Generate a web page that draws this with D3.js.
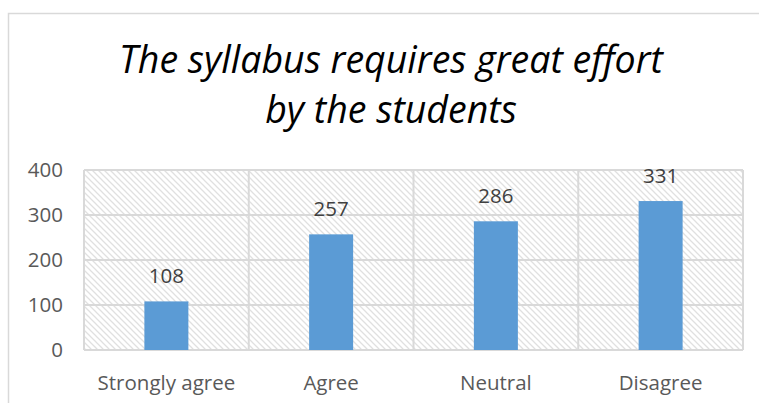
<!DOCTYPE html>
<html><head><meta charset="utf-8">
<script src="https://cdn.jsdelivr.net/npm/d3@7"></script>
<style>body{margin:0;background:#fff}svg{display:block}</style>
</head><body>
<script>
const categories = ["Strongly agree", "Agree", "Neutral", "Disagree"];
const values = [108, 257, 286, 331];
const yTicks = [0, 100, 200, 300, 400];
const titleLines = ["The syllabus requires great effort", "by the students"];

const W = 759, H = 403;
const m = {left: 84, right: 16, top: 170, bottom: 53};
const svg = d3.select("body").append("svg").attr("width", W).attr("height", H);

const defs = svg.append("defs");
const pat = defs.append("pattern").attr("id", "hatch").attr("patternUnits", "userSpaceOnUse")
  .attr("width", 6).attr("height", 6);
pat.append("path").attr("d", "M0,0 L6,6 M-1,5 L1,7 M5,-1 L7,1")
  .attr("stroke", "#e0e0e0").attr("stroke-width", 1.3);

// chart border
svg.append("path").attr("d", `M8.5,${H} L8.5,13.5 L${W},13.5`).attr("fill", "none")
  .attr("stroke", "#d9d9d9").attr("stroke-width", 1.5);

const x = d3.scaleBand().domain(categories).range([m.left, W - m.right]).paddingInner(0).paddingOuter(0);
const y = d3.scaleLinear().domain([0, 400]).range([H - m.bottom, m.top]);

// plot area hatch
svg.append("rect").attr("x", m.left).attr("y", m.top).attr("width", W - m.right - m.left)
  .attr("height", H - m.bottom - m.top).attr("fill", "url(#hatch)");

// horizontal gridlines
svg.append("g").selectAll("line").data(yTicks).join("line")
  .attr("x1", m.left).attr("x2", W - m.right)
  .attr("y1", d => y(d)).attr("y2", d => y(d))
  .attr("stroke", "#d9d9d9").attr("stroke-width", 2);
// vertical gridlines
const bounds = categories.map(c => x(c)).concat([x(categories[categories.length-1]) + x.bandwidth()]);
svg.append("g").selectAll("line").data(bounds).join("line")
  .attr("x1", d => d).attr("x2", d => d)
  .attr("y1", m.top).attr("y2", H - m.bottom)
  .attr("stroke", "#d9d9d9").attr("stroke-width", 2);

const FS = 20.5;
// y axis labels
const yAxis = d3.axisLeft(y).tickValues(yTicks).tickSize(0).tickPadding(0);
const ga = svg.append("g").attr("transform", `translate(${m.left - 21},0)`).call(yAxis);
ga.select(".domain").remove();
ga.selectAll("text").attr("font-family", "Open Sans, sans-serif").attr("font-size", FS).attr("fill", "#595959");

// x axis labels
const xAxis = d3.axisBottom(x).tickSize(0).tickPadding(0);
const gx = svg.append("g").attr("transform", `translate(0,${H - m.bottom + 25})`).call(xAxis);
gx.select(".domain").remove();
gx.selectAll("text").attr("font-family", "Open Sans, sans-serif").attr("font-size", FS).attr("fill", "#595959");

// bars
const bw = 44;
svg.append("g").selectAll("rect").data(values).join("rect")
  .attr("x", (d, i) => x(categories[i]) + x.bandwidth() / 2 - bw / 2)
  .attr("width", bw)
  .attr("y", d => y(d))
  .attr("height", d => y(0) - y(d))
  .attr("fill", "#5b9bd5");

// value labels
svg.append("g").selectAll("text").data(values).join("text")
  .attr("x", (d, i) => x(categories[i]) + x.bandwidth() / 2)
  .attr("y", d => y(d) - 18)
  .attr("text-anchor", "middle")
  .attr("font-family", "Open Sans, sans-serif").attr("font-size", FS).attr("fill", "#404040")
  .text(d => d);

// title
svg.append("g").selectAll("text").data(titleLines).join("text")
  .attr("x", 391).attr("y", (d, i) => 73 + i * 50)
  .attr("text-anchor", "middle")
  .attr("font-family", "Open Sans, sans-serif").attr("font-style", "italic")
  .attr("font-size", 37.5).attr("fill", "#000")
  .text(d => d);
</script>
</body></html>
